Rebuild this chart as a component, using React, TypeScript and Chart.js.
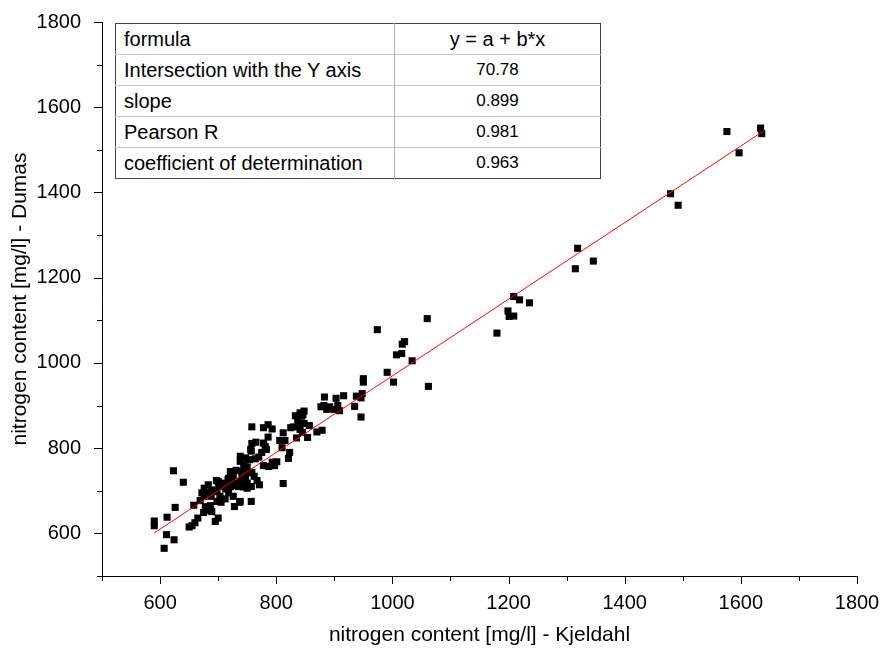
import React, { useEffect, useRef } from "react";
import { Chart, registerables } from "chart.js";

Chart.register(...registerables);

// Scatter data: Kjeldahl (x) vs Dumas (y), mg/l
const kjeldahl = [
  1576, 1634, 1636, 1597, 1479, 1492, 1319, 1315, 1346, 1209, 1219, 1236, 1199, 1201, 1209, 1180,
  1060, 974, 1021, 1017, 1016, 1007, 1034, 991, 1002, 1062, 950, 950, 948, 938, 946, 935, 946,
  916, 883, 882, 892, 903, 906, 909, 887, 899, 877, 848, 846, 844, 833, 841, 837, 830, 838, 848,
  857, 841, 845, 870, 879, 835, 854, 825, 758, 778, 786, 793, 812, 786, 806, 815, 810, 823, 821,
  765, 778, 781, 783, 756, 775, 770, 754, 764, 738, 744, 750, 778, 787, 797, 801, 793, 758, 762,
  767, 771, 731, 724, 718, 709, 701, 697, 741, 747, 739, 750, 735, 744, 721, 714, 726, 812, 623,
  640, 626, 612, 590, 590, 611, 624, 607, 658, 665, 660, 655, 650, 695, 700, 675, 683, 689, 678,
  687, 669, 676, 683, 676, 683, 689, 698, 698, 705, 703, 700, 717, 725, 726, 721, 713, 718, 726,
  728, 738, 723, 747, 757, 758, 752, 747, 757, 757, 738, 721, 741, 731, 738, 706, 688, 712, 672,
  750, 737,
];
const dumas = [
  1543, 1551, 1538, 1493, 1397, 1370, 1269, 1221, 1239, 1156, 1148, 1141, 1122, 1109, 1110, 1070,
  1104, 1078, 1050, 1044, 1022, 1019, 1005, 978, 955, 945, 963, 955, 928, 922, 918, 898, 873,
  923, 920, 900, 897, 917, 900, 888, 891, 891, 897, 887, 879, 875, 876, 883, 867, 850, 852, 858,
  853, 844, 837, 838, 842, 824, 825, 848, 850, 848, 855, 845, 836, 826, 818, 818, 801, 790, 776,
  814, 812, 804, 797, 797, 790, 779, 773, 775, 769, 761, 756, 759, 757, 759, 768, 767, 743, 734,
  724, 714, 748, 738, 729, 718, 710, 724, 738, 730, 722, 718, 710, 709, 722, 712, 712, 717, 747,
  720, 661, 638, 629, 618, 597, 585, 565, 666, 636, 625, 618, 615, 628, 636, 649, 654, 651, 663,
  665, 677, 687, 695, 706, 714, 702, 698, 675, 673, 687, 722, 726, 745, 734, 710, 704, 695, 687,
  663, 675, 722, 777, 793, 811, 742, 722, 710, 675, 781, 745, 745, 718, 710, 710, 687, 681, 695,
  706, 673,
];

// Fitted line end points
const fitX = [590, 1640];
const fitY = [601, 1545];

// Axis ranges and ticks
const axisMin = 500;
const axisMax = 1800;
const tickStep = 100;
const labelStep = 200;

// Table content
const tableLabels = [
  "formula",
  "Intersection with the Y axis",
  "slope",
  "Pearson R",
  "coefficient of determination",
];
const tableValues = ["y = a + b*x", "70.78", "0.899", "0.981", "0.963"];

const FONT = "'Liberation Sans', Arial, Helvetica, sans-serif";

const tickMarks = {
  id: "tickMarks",
  afterDraw(chart: any) {
    const ctx = chart.ctx;
    const { left, bottom } = chart.chartArea;
    ctx.save();
    ctx.strokeStyle = "#000";
    ctx.lineWidth = 1;
    for (let v = axisMin; v <= axisMax; v += tickStep) {
      const major = v % labelStep === 0;
      const len = major ? 8 : 5;
      const px = Math.round(chart.scales.x.getPixelForValue(v)) + 0.5;
      ctx.beginPath();
      ctx.moveTo(px, bottom);
      ctx.lineTo(px, bottom + len);
      ctx.stroke();
      const py = Math.round(chart.scales.y.getPixelForValue(v)) + 0.5;
      ctx.beginPath();
      ctx.moveTo(left, py);
      ctx.lineTo(left - len, py);
      ctx.stroke();
    }
    ctx.restore();
  },
};

export default function App() {
  const ref = useRef<HTMLCanvasElement>(null);

  useEffect(() => {
    if (!ref.current) return;
    const points = kjeldahl.map((x, i) => ({ x, y: dumas[i] }));
    const line = fitX.map((x, i) => ({ x, y: fitY[i] }));
    const tickCb = (v: any) => (v % labelStep === 0 && v !== axisMin ? String(v) : "");
    const chart = new Chart(ref.current, {
      type: "scatter",
      data: {
        datasets: [
          {
            label: "fit",
            data: line,
            showLine: true,
            borderColor: "#ff0000",
            borderWidth: 1,
            pointRadius: 0,
            fill: false,
          } as any,
          {
            label: "data",
            data: points,
            pointStyle: "rect",
            pointRadius: 5,
            pointBackgroundColor: "#000",
            pointBorderWidth: 0,
            borderWidth: 0,
            backgroundColor: "#000",
          } as any,
        ],
      },
      options: {
        responsive: false,
        animation: false,
        layout: { padding: { left: 0, right: 26, top: 22, bottom: 0 } },
        plugins: { legend: { display: false }, tooltip: { enabled: false } },
        scales: {
          x: {
            type: "linear",
            min: axisMin,
            max: axisMax,
            afterFit: (s: any) => {
              s.height = 75;
              s.paddingLeft = 0;
              s.paddingRight = 0;
            },
            grid: { display: false },
            border: { display: true, color: "#000", width: 1 },
            ticks: {
              stepSize: tickStep,
              autoSkip: false,
              maxRotation: 0,
              padding: 7,
              color: "#000",
              font: { family: FONT, size: 20 },
              callback: tickCb,
            },
            title: {
              display: true,
              text: "nitrogen content [mg/l] - Kjeldahl",
              color: "#000",
              font: { family: FONT, size: 21 },
              padding: { top: 0, bottom: 3 },
            },
          },
          y: {
            type: "linear",
            min: axisMin,
            max: axisMax,
            afterFit: (s: any) => {
              s.width = 102;
              s.paddingTop = 0;
              s.paddingBottom = 0;
            },
            grid: { display: false },
            border: { display: true, color: "#000", width: 1 },
            ticks: {
              stepSize: tickStep,
              autoSkip: false,
              padding: 13,
              color: "#000",
              font: { family: FONT, size: 20 },
              callback: tickCb,
            },
            title: {
              display: true,
              text: "nitrogen content [mg/l] - Dumas",
              color: "#000",
              font: { family: FONT, size: 21 },
              padding: { top: 8, bottom: 0 },
            },
          },
        },
      },
      plugins: [tickMarks],
    });
    return () => chart.destroy();
  }, []);

  const rowH = 31;
  return (
    <div style={{ position: "absolute", left: 0, top: 0, width: 883, height: 651, background: "#fff" }}>
      <canvas ref={ref} width={883} height={651} style={{ display: "block" }} />
      <table
        style={{
          position: "absolute",
          left: 115,
          top: 23,
          width: 485,
          borderCollapse: "collapse",
          border: "1.5px solid #444",
          background: "#fff",
          fontFamily: FONT,
          color: "#000",
          tableLayout: "fixed",
        }}
      >
        <colgroup>
          <col style={{ width: 279 }} />
          <col style={{ width: 206 }} />
        </colgroup>
        <tbody>
          {tableLabels.map((lab, i) => (
            <tr key={i} style={{ height: rowH }}>
              <td
                style={{
                  padding: "0 0 0 8px",
                  fontSize: 20,
                  borderTop: i === 0 ? "none" : "1px solid #c8c8c8",
                  borderRight: "1px solid #b0b0b0",
                  whiteSpace: "nowrap",
                  lineHeight: "20px",
                }}
              >
                {lab}
              </td>
              <td
                style={{
                  padding: 0,
                  textAlign: "center",
                  fontSize: i === 0 ? 20 : 17,
                  borderTop: i === 0 ? "none" : "1px solid #c8c8c8",
                  whiteSpace: "nowrap",
                  lineHeight: "20px",
                }}
              >
                {tableValues[i]}
              </td>
            </tr>
          ))}
        </tbody>
      </table>
    </div>
  );
}
